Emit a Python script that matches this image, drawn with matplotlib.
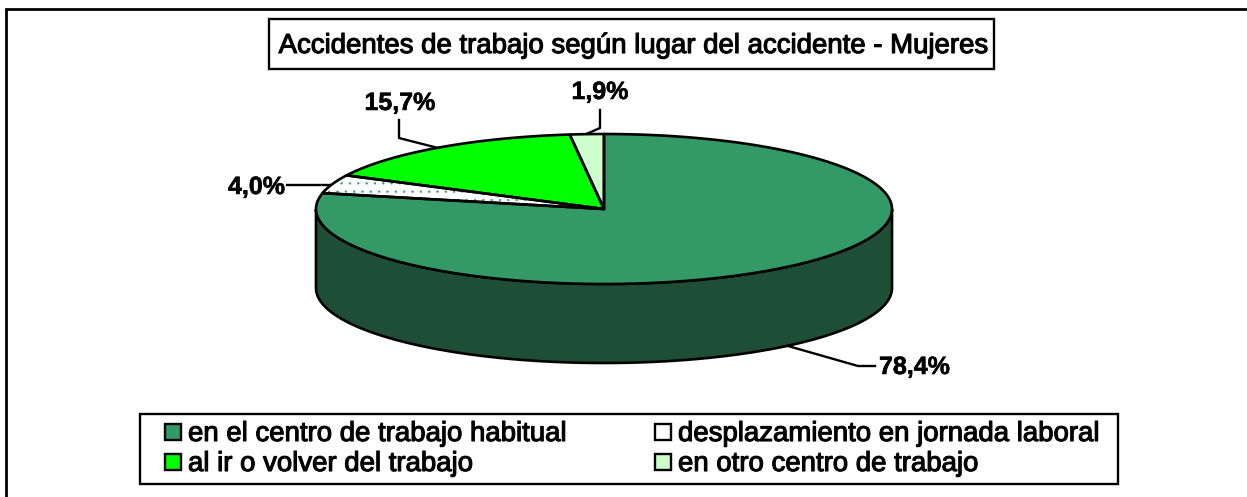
import numpy as np
import matplotlib
matplotlib.use("Agg")
import matplotlib.pyplot as plt
from matplotlib.patches import Polygon, Rectangle
import matplotlib.patheffects as pe

plt.rcParams['font.family'] = ['Liberation Sans', 'DejaVu Sans']
plt.rcParams['hatch.linewidth'] = 0.4

# data, clockwise order as it stands in the legend box
titulo = 'Accidentes de trabajo según lugar del accidente - Mujeres'
categorias = ['en el centro de trabajo habitual', 'desplazamiento en jornada laboral',
              'al ir o volver del trabajo', 'en otro centro de trabajo']
valores = [78.4, 4.0, 15.7, 1.9]
etiquetas = ['78,4%', '4,0%', '15,7%', '1,9%']
colores = ['#339966', '#FFFFFF', '#00FF00', '#CCFFCC']
lateral = '#1E4F36'

# pie geometry in pixels
cx, cy = 604, 209
rx, ry = 288, 75
alto = 79
lw = 1.9
negrita = [pe.withStroke(linewidth=0.8, foreground='black')]
negrita2 = [pe.withStroke(linewidth=0.4, foreground='black')]

fig = plt.figure(figsize=(12.47, 4.97), dpi=100)
ax = fig.add_axes([0, 0, 1, 1])
ax.set_xlim(0, 1247)
ax.set_ylim(497, 0)
ax.axis('off')


def borde(t):
    return cx + rx*np.sin(t), cy - ry*np.cos(t)


#frame, only top and left are in the picture
ax.plot([6, 6, 1247], [497, 9, 9], color='black', lw=2, solid_joinstyle='miter')

#side of the pie, front half only
t = np.linspace(np.pi/2, 3*np.pi/2, 200)
x, y = borde(t)
ax.add_patch(Polygon(np.r_[np.c_[x, y], np.c_[x[::-1], y[::-1]+alto]], fc=lateral, ec='black', lw=lw, zorder=2))

#slices
total = sum(valores)
inicio = 0
for v, c in zip(valores, colores):
    fin = inicio + v/total*2*np.pi
    t = np.linspace(inicio, fin, 200)
    x, y = borde(t)
    pts = np.r_[[[cx, cy]], np.c_[x, y]]
    if c == '#FFFFFF':
        ax.add_patch(Polygon(pts, fc='white', ec='#339966', hatch='..', lw=0, zorder=3))
    else:
        ax.add_patch(Polygon(pts, fc=c, ec='none', zorder=3))
    ax.add_patch(Polygon(pts, fc='none', ec='black', lw=lw, joinstyle='round', zorder=4))
    inicio = fin

#labels with their leader lines
ax.plot([788, 858, 875], [346, 366, 366], color='black', lw=1.7, zorder=1)
ax.plot([287, 335], [185, 185], color='black', lw=1.7, zorder=1)
ax.plot([399, 399, 442], [120, 138, 149], color='black', lw=1.7, zorder=1)
ax.plot([600, 600, 584], [110, 128, 135], color='black', lw=1.7, zorder=1)
pos = [(879, 367, 'left'), (285, 187, 'right'), (400, 103, 'center'), (600, 92, 'center')]
for e, (px, py, ha) in zip(etiquetas, pos):
    ax.text(px, py, e, ha=ha, va='center', fontsize=18, fontweight='bold', path_effects=negrita2, zorder=6)

#title box
ax.add_patch(Rectangle((269, 19), 725, 50, fc='white', ec='black', lw=1.7, zorder=5))
ax.text(632, 46, titulo, ha='center', va='center', fontsize=19.85, path_effects=negrita, zorder=6)

#legend box
ax.add_patch(Rectangle((140, 414), 978, 70, fc='white', ec='black', lw=1.7, zorder=5))
col_x = [165, 165, 655, 655]
fil_y = [432, 462, 432, 462]
orden = [0, 2, 1, 3]
for i, px, py in zip(orden, col_x, fil_y):
    ax.add_patch(Rectangle((px, py-8), 16, 16, fc=colores[i], ec='black', lw=1.7, zorder=6))
    ax.text(px+23, py+2, categorias[i], ha='left', va='center', fontsize=19.85, path_effects=negrita, zorder=6)

fig.savefig('out.png', dpi=100)
